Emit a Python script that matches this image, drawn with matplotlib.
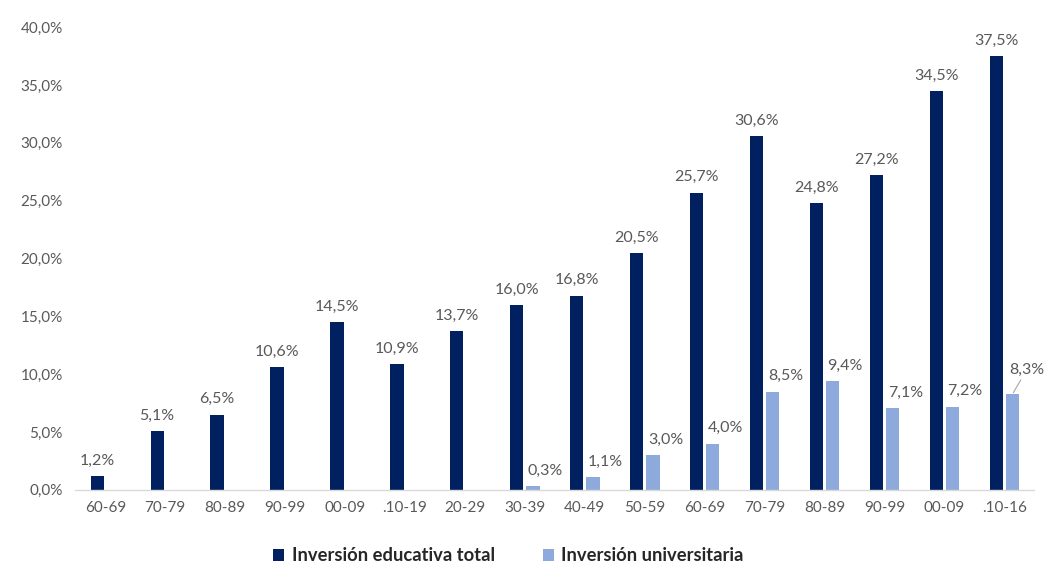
import matplotlib
matplotlib.use("Agg")
import matplotlib.pyplot as plt
import numpy as np

CATEGORIES = ["60-69", "70-79", "80-89", "90-99", "00-09", ".10-19", "20-29", "30-39",
              "40-49", "50-59", "60-69", "70-79", "80-89", "90-99", "00-09", ".10-16"]
TOTAL = [1.2, 5.1, 6.5, 10.6, 14.5, 10.9, 13.7, 16.0,
         16.8, 20.5, 25.7, 30.6, 24.8, 27.2, 34.5, 37.5]
UNIV = [None, None, None, None, None, None, None, 0.3,
        1.1, 3.0, 4.0, 8.5, 9.4, 7.1, 7.2, 8.3]
YTICKS = [0, 5, 10, 15, 20, 25, 30, 35, 40]

DARK = "#002060"
LIGHT = "#8EA9DB"
GREY = "#595959"


def pct(v):
    return f"{v:.1f}%".replace(".", ",")


plt.rcParams["font.family"] = ["Lato", "DejaVu Sans"]

fig = plt.figure(figsize=(10.46, 5.67), dpi=100)
ax = fig.add_axes([0.072, 0.136, 0.917, 0.816])

x = np.arange(len(CATEGORIES))
w = 0.22
off = 0.135

ax.bar(x - off, TOTAL, width=w, color=DARK, label="Inversión educativa total", zorder=2)
ui = [i for i, v in enumerate(UNIV) if v is not None]
uv = [UNIV[i] for i in ui]
ax.bar(x[ui] + off, uv, width=w, color=LIGHT, label="Inversión universitaria", zorder=2)

for xi, v in zip(x, TOTAL):
    ax.annotate(pct(v), (xi - off, v), xytext=(0, 6), textcoords="offset points",
                ha="center", va="bottom", fontsize=11.5, color=GREY)

for i, v in zip(ui, uv):
    if i == len(CATEGORIES) - 1:
        ax.annotate(pct(v), (x[i] + off, v), xytext=(10, 12), textcoords="offset points",
                    ha="center", va="bottom", fontsize=11.5, color=GREY,
                    arrowprops=dict(arrowstyle="-", color="#A6A6A6", lw=0.8,
                                    shrinkA=0, shrinkB=1))
    else:
        ax.annotate(pct(v), (x[i] + off, v), xytext=(9, 6), textcoords="offset points",
                    ha="center", va="bottom", fontsize=11.5, color=GREY)

ax.set_xlim(-0.5, len(CATEGORIES) - 0.5)
ax.set_ylim(0, 40)
ax.set_yticks(YTICKS)
ax.set_yticklabels([pct(t) for t in YTICKS])
ax.set_xticks(x)
ax.set_xticklabels(CATEGORIES)
ax.tick_params(axis="both", length=0, labelsize=11, labelcolor=GREY)
ax.tick_params(axis="x", pad=8)
ax.tick_params(axis="y", pad=9)

for s in ["top", "right", "left"]:
    ax.spines[s].set_visible(False)
ax.spines["bottom"].set_color("#D9D9D9")
ax.spines["bottom"].set_linewidth(1)

leg = fig.legend(loc="center", bbox_to_anchor=(0.486, 0.02), ncol=2, frameon=False,
                 handlelength=0.6, handleheight=0.6, handletextpad=0.4, columnspacing=2.6,
                 prop={"size": 13.2, "weight": "bold"})
for t in leg.get_texts():
    t.set_color("#262626")

fig.savefig("out.png", dpi=100)
